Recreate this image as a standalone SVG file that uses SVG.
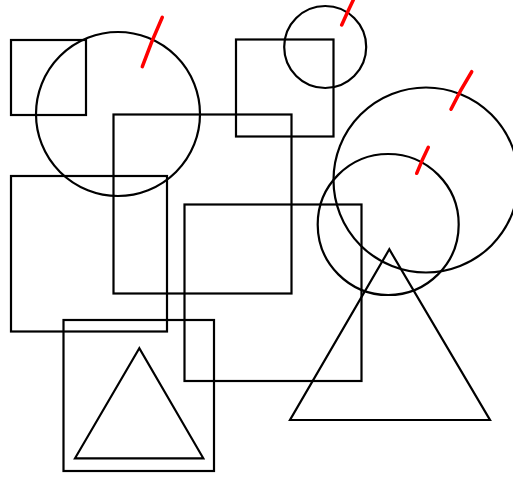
<svg xmlns="http://www.w3.org/2000/svg" width="513" height="480" viewBox="0 0 513 480">
<style>
.s{fill:none;stroke:#000;stroke-width:2.2}
.r{fill:none;stroke:#f00;stroke-width:3.5;stroke-linecap:round}
</style>
<rect width="513" height="480" fill="#fff"/>
<g id="rect1"><rect class="s" x="11" y="40" width="75" height="75"/></g>
<g id="circle1"><circle class="s" cx="118" cy="114" r="82"/></g>
<g id="rect2"><rect class="s" x="113.5" y="114.5" width="178" height="179"/></g>
<g id="rect3"><rect class="s" x="11" y="176" width="156" height="155.5"/></g>
<g id="rect4"><rect class="s" x="63.5" y="320" width="150.5" height="151"/></g>
<g id="tri1"><polygon class="s" points="139.3,348.3 75,458.3 203.3,458.3"/></g>
<g id="rect5"><rect class="s" x="184.5" y="204.5" width="177" height="176.5"/></g>
<g id="rect6"><rect class="s" x="236" y="39.5" width="97.5" height="97"/></g>
<g id="circle2"><circle class="s" cx="325.2" cy="47" r="41"/></g>
<g id="circle3"><circle class="s" cx="426" cy="180" r="92.5"/></g>
<g id="circle4"><circle class="s" cx="388.2" cy="224.5" r="70.5"/></g>
<g id="tri2"><polygon class="s" points="389.3,249.3 290,420 490,420"/></g>
<g id="marks">
<path class="r" d="M162.3,17.3 Q151.5,41 142.3,66.7"/>
<path class="r" d="M353.3,0 Q347,13 341.7,25"/>
<path class="r" d="M471.7,71.7 Q460.5,89.5 451,109.3"/>
<path class="r" d="M428.3,147.3 Q422,160 416.7,173.3"/>
</g>
</svg>
